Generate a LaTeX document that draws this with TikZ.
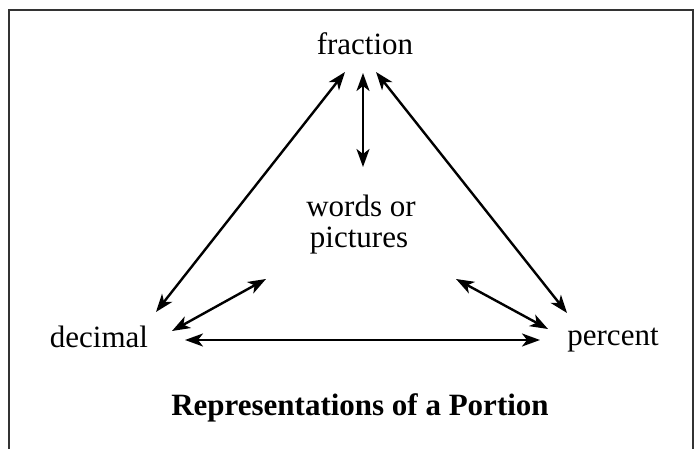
\documentclass[tikz,border=0pt]{standalone}
\usepackage{fontspec}
\setmainfont{Liberation Serif}
\usetikzlibrary{arrows.meta}
\begin{document}
\begin{tikzpicture}[x=1pt,y=1pt,
  lbl/.style={inner sep=0pt,anchor=base,font=\fontsize{31}{31}\selectfont},
  ttl/.style={inner sep=0pt,anchor=base,font=\fontsize{31}{31}\selectfont\bfseries},
  dbl/.style={line width=2.4pt,{Stealth[length=18pt,width=13pt,inset=5pt]}-{Stealth[length=18pt,width=13pt,inset=5pt]}},
  frame/.style={line width=2.4pt,draw=black!80}]
\useasboundingbox (0,0) rectangle (695,449);
% frame (bottom edge lies below the picture)
\draw[frame] (9,-10) -- (9,439) -- (693,439) -- (693,-10);
% labels
\node[lbl] (frac) at (365,394) {fraction};
\node[lbl] (words) at (361,232) {words or};
\node[lbl] (pict) at (359,201) {pictures};
\node[lbl] (dec) at (99,101) {decimal};
\node[lbl] (perc) at (613,103) {percent};
\node[ttl] (title) at (360,33) {Representations of a Portion};
% arrow end points
\coordinate (fL) at (345,377);
\coordinate (fM) at (363,376);
\coordinate (fR) at (376,377);
\coordinate (dT) at (156,137);
\coordinate (pT) at (567,136);
\coordinate (wB) at (363,282);
\coordinate (wL) at (266,170);
\coordinate (wR) at (456,170);
\coordinate (dR) at (172,118);
\coordinate (pL) at (548,120);
\coordinate (dH) at (185,109);
\coordinate (pH) at (540,109);
% connectors
\draw[dbl] (fL) -- (dT);
\draw[dbl] (fM) -- (wB);
\draw[dbl] (fR) -- (pT);
\draw[dbl] (dR) -- (wL);
\draw[dbl] (pL) -- (wR);
\draw[dbl] (dH) -- (pH);
\end{tikzpicture}
\end{document}
